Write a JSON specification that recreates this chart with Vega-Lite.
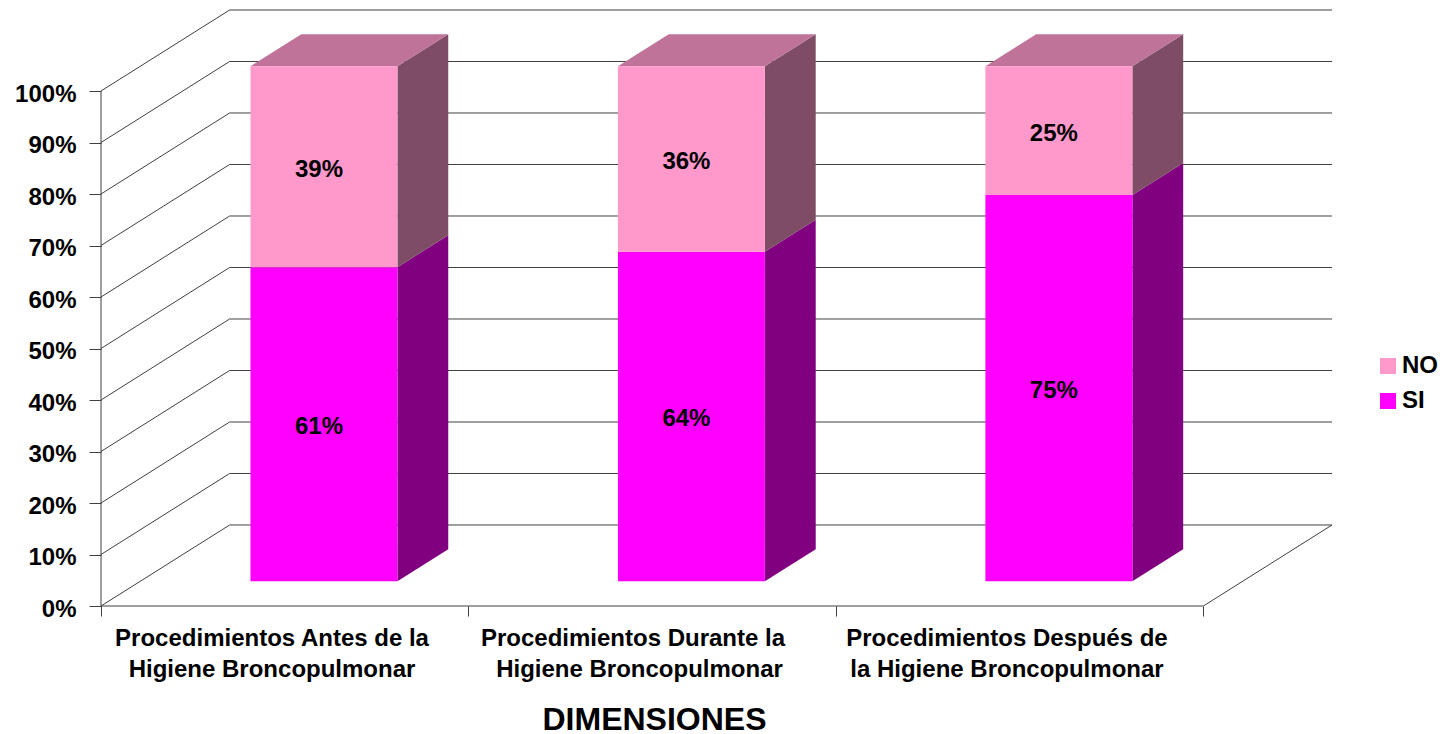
{
  "$schema": "https://vega.github.io/schema/vega-lite/v6.json",
  "width": 1231,
  "height": 596,
  "autosize": {"type": "none"},
  "padding": {"left": 101, "top": 10, "right": 117, "bottom": 128},
  "background": "white",
  "config": {"view": {"stroke": null}, "font": "Liberation Sans"},
  "params": [
    {"name": "depthX", "value": 0.35},
    {"name": "depthY", "value": 15.73},
    {"name": "barFront", "value": 0.305},
    {"name": "barBack", "value": 0.70},
    {"name": "barStart", "value": 0.30},
    {"name": "barEnd", "value": 0.70}
  ],
  "datasets": {
    "bars": [
      {"pos": 0, "serie": "SI", "value": 61},
      {"pos": 0, "serie": "NO", "value": 39},
      {"pos": 1, "serie": "SI", "value": 64},
      {"pos": 1, "serie": "NO", "value": 36},
      {"pos": 2, "serie": "SI", "value": 75},
      {"pos": 2, "serie": "NO", "value": 25}
    ],
    "levels": [
      {"level": 0}, {"level": 10}, {"level": 20}, {"level": 30}, {"level": 40}, {"level": 50},
      {"level": 60}, {"level": 70}, {"level": 80}, {"level": 90}, {"level": 100}
    ],
    "categories": [
      {"pos": 0, "line": 0, "dimension": "Procedimientos Antes de la|Higiene Broncopulmonar"},
      {"pos": 1, "line": 1, "dimension": "Procedimientos Durante la"},
      {"pos": 1, "line": 2, "dimension": "Higiene Broncopulmonar"},
      {"pos": 2, "line": 0, "dimension": "Procedimientos Después de|la Higiene Broncopulmonar"}
    ]
  },
  "layer": [
    {
      "description": "Back wall gridlines",
      "data": {"name": "levels"},
      "transform": [
        {"calculate": "depthX", "as": "x0"},
        {"calculate": "depthX + 3", "as": "x1"},
        {"calculate": "datum.level + depthY", "as": "yBack"}
      ],
      "mark": {"type": "rule", "stroke": "#404040", "strokeWidth": 1},
      "encoding": {
        "x": {
          "field": "x0", "type": "quantitative",
          "scale": {"domain": [0, 3.35], "nice": false, "zero": false},
          "axis": {
            "values": [0, 1, 2, 3], "labels": false, "grid": false, "domain": false,
            "tickSize": 10, "tickColor": "#404040",
            "title": "DIMENSIONES", "titleFontSize": 32, "titleFontWeight": "bold", "titleColor": "black",
            "titleX": 553, "titleY": 113, "titleBaseline": "middle", "titleAlign": "center"
          }
        },
        "x2": {"field": "x1"},
        "y": {
          "field": "yBack", "type": "quantitative",
          "scale": {"domain": [0, 115.73], "nice": false, "zero": false},
          "axis": {
            "values": [0, 10, 20, 30, 40, 50, 60, 70, 80, 90, 100],
            "labelExpr": "datum.value + '%'",
            "labelFontSize": 24, "labelFontWeight": "bold", "labelColor": "black",
            "labelPadding": 13, "labelOffset": 3, "tickSize": 12, "tickColor": "#404040",
            "grid": false, "domain": false, "title": null
          }
        }
      }
    },
    {
      "description": "Side wall gridlines",
      "data": {"name": "levels"},
      "transform": [
        {"calculate": "0", "as": "x0"},
        {"calculate": "depthX", "as": "x1"},
        {"calculate": "datum.level + depthY", "as": "yBack"}
      ],
      "mark": {"type": "rule", "stroke": "#404040", "strokeWidth": 1},
      "encoding": {
        "x": {"field": "x0", "type": "quantitative"},
        "x2": {"field": "x1"},
        "y": {"field": "level", "type": "quantitative"},
        "y2": {"field": "yBack"}
      }
    },
    {
      "description": "Front edge of the floor",
      "data": {"name": "levels"},
      "transform": [
        {"filter": "datum.level === 0"},
        {"calculate": "0", "as": "x0"},
        {"calculate": "3", "as": "x1"}
      ],
      "mark": {"type": "rule", "stroke": "#404040", "strokeWidth": 1},
      "encoding": {
        "x": {"field": "x0", "type": "quantitative"},
        "x2": {"field": "x1"},
        "y": {"field": "level", "type": "quantitative"}
      }
    },
    {
      "description": "Right edge of the floor",
      "data": {"name": "levels"},
      "transform": [
        {"filter": "datum.level === 0"},
        {"calculate": "3", "as": "x0"},
        {"calculate": "3 + depthX", "as": "x1"},
        {"calculate": "depthY", "as": "yBack"}
      ],
      "mark": {"type": "rule", "stroke": "#404040", "strokeWidth": 1},
      "encoding": {
        "x": {"field": "x0", "type": "quantitative"},
        "x2": {"field": "x1"},
        "y": {"field": "level", "type": "quantitative"},
        "y2": {"field": "yBack"}
      }
    },
    {
      "description": "Vertical axis line from 0% to 100%",
      "data": {"name": "levels"},
      "transform": [
        {"filter": "datum.level === 0"},
        {"calculate": "0", "as": "x0"},
        {"calculate": "100", "as": "yTop"}
      ],
      "mark": {"type": "rule", "stroke": "#404040", "strokeWidth": 1},
      "encoding": {
        "x": {"field": "x0", "type": "quantitative"},
        "y": {"field": "level", "type": "quantitative"},
        "y2": {"field": "yTop"}
      }
    },
    {
      "description": "Right-hand faces of the stacked bars",
      "data": {"name": "bars"},
      "transform": [
        {"stack": "value", "groupby": ["pos"], "sort": [{"field": "serie", "order": "descending"}], "as": ["v0", "v1"]},
        {"calculate": "[barFront, barBack]", "as": "depth"},
        {"flatten": ["depth"]},
        {"calculate": "datum.pos + barEnd + datum.depth * depthX", "as": "xs"},
        {"calculate": "datum.v0 + datum.depth * depthY", "as": "ys0"},
        {"calculate": "datum.v1 + datum.depth * depthY", "as": "ys1"}
      ],
      "mark": {"type": "area", "orient": "vertical", "opacity": 1},
      "encoding": {
        "x": {"field": "xs", "type": "quantitative"},
        "y": {"field": "ys0", "type": "quantitative", "stack": null},
        "y2": {"field": "ys1"},
        "detail": [{"field": "pos"}, {"field": "serie"}],
        "color": {"condition": {"test": "datum.serie === 'SI'", "value": "#800080"}, "value": "#7F4C66"}
      }
    },
    {
      "description": "Top faces of the stacked bars",
      "data": {"name": "bars"},
      "transform": [
        {"stack": "value", "groupby": ["pos"], "sort": [{"field": "serie", "order": "descending"}], "as": ["v0", "v1"]},
        {"filter": "datum.serie === 'NO'"},
        {"calculate": "[barFront, barBack]", "as": "depth"},
        {"flatten": ["depth"]},
        {"calculate": "datum.pos + barStart + datum.depth * depthX", "as": "xa"},
        {"calculate": "datum.pos + barEnd + datum.depth * depthX", "as": "xb"},
        {"calculate": "datum.v1 + datum.depth * depthY", "as": "yt"}
      ],
      "mark": {"type": "area", "orient": "horizontal", "color": "#BF7399", "opacity": 1},
      "encoding": {
        "y": {"field": "yt", "type": "quantitative", "stack": null},
        "x": {"field": "xa", "type": "quantitative"},
        "x2": {"field": "xb"},
        "detail": {"field": "pos"}
      }
    },
    {
      "description": "Front faces of the stacked bars",
      "data": {"name": "bars"},
      "transform": [
        {"stack": "value", "groupby": ["pos"], "sort": [{"field": "serie", "order": "descending"}], "as": ["v0", "v1"]},
        {"calculate": "datum.pos + barStart + barFront * depthX", "as": "xa"},
        {"calculate": "datum.pos + barEnd + barFront * depthX", "as": "xb"},
        {"calculate": "datum.v0 + barFront * depthY", "as": "ya"},
        {"calculate": "datum.v1 + barFront * depthY", "as": "yb"}
      ],
      "mark": {"type": "rect", "opacity": 1},
      "encoding": {
        "x": {"field": "xa", "type": "quantitative"},
        "x2": {"field": "xb"},
        "y": {"field": "ya", "type": "quantitative"},
        "y2": {"field": "yb"},
        "color": {
          "field": "serie", "type": "nominal",
          "scale": {"domain": ["NO", "SI"], "range": ["#FF99CC", "#FF00FF"]},
          "legend": {
            "title": null, "orient": "none", "legendX": 1275, "legendY": 344,
            "symbolType": "square", "symbolSize": 256, "symbolStrokeWidth": 0, "symbolOpacity": 1,
            "labelFontSize": 24, "labelFontWeight": "bold", "labelColor": "black",
            "labelOffset": 2, "rowPadding": 11
          }
        }
      }
    },
    {
      "description": "Share printed on each bar segment",
      "data": {"name": "bars"},
      "transform": [
        {"stack": "value", "groupby": ["pos"], "sort": [{"field": "serie", "order": "descending"}], "as": ["v0", "v1"]},
        {"calculate": "datum.pos + (barStart + barEnd) / 2 + barFront * depthX", "as": "xm"},
        {"calculate": "(datum.v0 + datum.v1) / 2 + barFront * depthY", "as": "ym"},
        {"calculate": "datum.value + '%'", "as": "share"}
      ],
      "mark": {"type": "text", "fontSize": 24, "fontWeight": "bold", "color": "black", "align": "center", "baseline": "middle", "dx": -5, "dy": 3},
      "encoding": {
        "x": {"field": "xm", "type": "quantitative"},
        "y": {"field": "ym", "type": "quantitative"},
        "text": {"field": "share"}
      }
    },
    {
      "description": "Two-line category labels under the floor",
      "data": {"name": "categories"},
      "transform": [
        {"filter": "datum.line === 0"},
        {"calculate": "datum.pos + 0.5", "as": "xm"},
        {"calculate": "0", "as": "ym"}
      ],
      "mark": {"type": "text", "fontSize": 24, "fontWeight": "bold", "color": "black", "align": "center", "baseline": "top", "lineBreak": "|", "lineHeight": 31, "dx": -12.7, "dy": 21},
      "encoding": {
        "x": {"field": "xm", "type": "quantitative"},
        "y": {"field": "ym", "type": "quantitative"},
        "text": {"field": "dimension"}
      }
    },
    {
      "description": "First line of the middle category label, set slightly left of its second line",
      "data": {"name": "categories"},
      "transform": [
        {"filter": "datum.line === 1"},
        {"calculate": "datum.pos + 0.5", "as": "xm"},
        {"calculate": "0", "as": "ym"}
      ],
      "mark": {"type": "text", "fontSize": 24, "fontWeight": "bold", "color": "black", "align": "center", "baseline": "top", "dx": -19.2, "dy": 21},
      "encoding": {
        "x": {"field": "xm", "type": "quantitative"},
        "y": {"field": "ym", "type": "quantitative"},
        "text": {"field": "dimension"}
      }
    },
    {
      "description": "Second line of the middle category label",
      "data": {"name": "categories"},
      "transform": [
        {"filter": "datum.line === 2"},
        {"calculate": "datum.pos + 0.5", "as": "xm"},
        {"calculate": "0", "as": "ym"}
      ],
      "mark": {"type": "text", "fontSize": 24, "fontWeight": "bold", "color": "black", "align": "center", "baseline": "top", "dx": -12.7, "dy": 52},
      "encoding": {
        "x": {"field": "xm", "type": "quantitative"},
        "y": {"field": "ym", "type": "quantitative"},
        "text": {"field": "dimension"}
      }
    }
  ]
}
